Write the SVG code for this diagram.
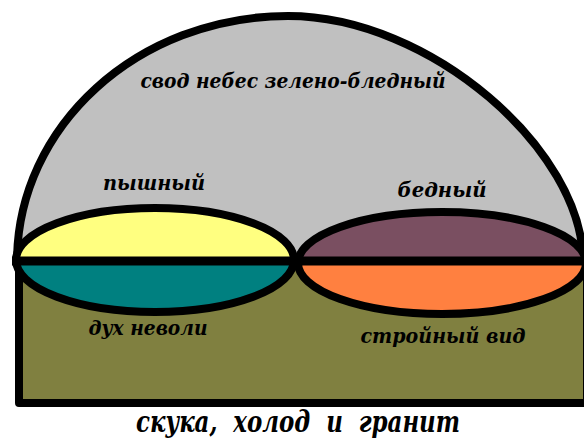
<svg xmlns="http://www.w3.org/2000/svg" width="584" height="441" viewBox="0 0 584 441">
<style>
.o{stroke:#000;stroke-width:8;stroke-linejoin:round}
.t{font-family:"DejaVu Serif","Liberation Serif",serif;font-style:italic;font-weight:bold;font-stretch:condensed;fill:#000;text-anchor:middle}
</style>
<rect width="584" height="441" fill="#fff"/>
<g id="dome">
<path class="o" d="M17,262 C17,126 138,16 288,16 C430,16 583,150 583,262 Z" fill="#C0C0C0"/>
</g>
<g id="ground">
<rect class="o" x="19" y="262" width="568" height="141" fill="#808040"/>
</g>
<g id="left-lens">
<path d="M16,260 A139,52 0 0 1 294,260 Z" fill="#FFFF80"/>
<path d="M16,260 A139,52 0 0 0 294,260 Z" fill="#008080"/>
<ellipse cx="155" cy="260" rx="139" ry="52" fill="none" stroke="#000" stroke-width="8"/>
</g>
<g id="right-lens">
<path d="M298,263 A144,51 0 0 1 586,263 Z" fill="#7A4F61"/>
<path d="M298,263 A144,51 0 0 0 586,263 Z" fill="#FF8040"/>
<ellipse cx="442" cy="263" rx="144" ry="51" fill="none" stroke="#000" stroke-width="8"/>
</g>
<g id="connectors">
<line x1="12" y1="261" x2="584" y2="261" stroke="#000" stroke-width="9"/>
</g>
<g id="labels">
<text class="t" x="293" y="88" font-size="21" textLength="305" lengthAdjust="spacingAndGlyphs">свод небес зелено-бледный</text>
<text class="t" x="154" y="190" font-size="21" textLength="102" lengthAdjust="spacingAndGlyphs">пышный</text>
<text class="t" x="442" y="197" font-size="21" textLength="89" lengthAdjust="spacingAndGlyphs">бедный</text>
<text class="t" x="148" y="335" font-size="21" textLength="119" lengthAdjust="spacingAndGlyphs">дух неволи</text>
<text class="t" x="443" y="343" font-size="21" textLength="165" lengthAdjust="spacingAndGlyphs">стройный вид</text>
<text class="t" x="298" y="432" font-size="30" textLength="324" lengthAdjust="spacingAndGlyphs" xml:space="preserve">скука,  холод  и  гранит</text>
</g>
</svg>
